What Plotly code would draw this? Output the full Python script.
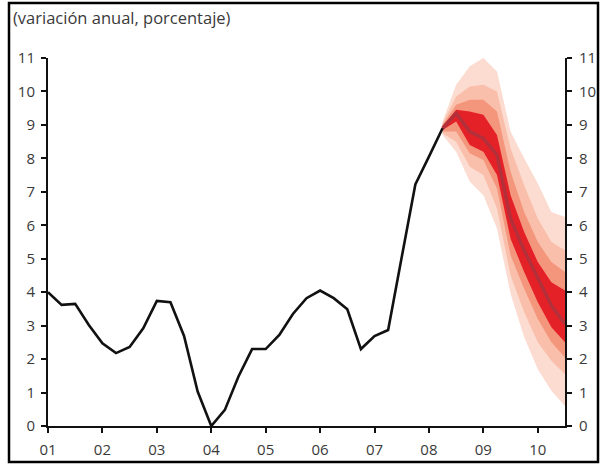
import plotly.graph_objects as go

# ---- data ----
hist_x = [2001.0, 2001.25, 2001.5, 2001.75, 2002.0, 2002.25, 2002.5, 2002.75,
          2003.0, 2003.25, 2003.5, 2003.75, 2004.0, 2004.25, 2004.5, 2004.75,
          2005.0, 2005.25, 2005.5, 2005.75, 2006.0, 2006.25, 2006.5, 2006.75,
          2007.0, 2007.25, 2007.5, 2007.75, 2008.0, 2008.25]
hist_y = [4.0, 3.62, 3.65, 3.02, 2.47, 2.18, 2.36, 2.92,
          3.74, 3.70, 2.69, 1.03, 0.0, 0.48, 1.48, 2.30,
          2.30, 2.72, 3.35, 3.82, 4.05, 3.82, 3.49, 2.30,
          2.69, 2.87, 5.05, 7.22, 8.05, 8.9]

fan_x = [2008.25, 2008.5, 2008.75, 2009.0, 2009.25, 2009.5, 2009.75, 2010.0, 2010.25, 2010.5]
center = [8.9, 9.35, 8.8, 8.6, 8.1, 6.2, 5.25, 4.4, 3.6, 3.05]
red_hi = [8.95, 9.45, 9.4, 9.3, 8.7, 6.9, 5.8, 4.9, 4.3, 4.05]
red_lo = [8.85, 9.1, 8.4, 8.2, 7.5, 5.6, 4.6, 3.7, 2.95, 2.5]
sal_hi = [9.0, 9.6, 9.75, 9.75, 9.4, 7.6, 6.4, 5.5, 4.9, 4.6]
sal_lo = [8.8, 8.8, 8.15, 7.95, 7.1, 5.1, 4.1, 3.2, 2.5, 2.05]
lig_hi = [9.05, 9.85, 10.15, 10.2, 10.0, 8.3, 7.2, 6.2, 5.5, 5.25]
lig_lo = [8.75, 8.5, 7.75, 7.5, 6.5, 4.5, 3.4, 2.5, 1.95, 1.55]
pal_hi = [9.1, 10.2, 10.75, 11.0, 10.6, 8.8, 8.0, 7.25, 6.4, 6.25]
pal_lo = [8.7, 8.2, 7.3, 6.9, 5.9, 3.95, 2.65, 1.7, 1.05, 0.6]

tick_vals = [2001, 2002, 2003, 2004, 2005, 2006, 2007, 2008, 2009, 2010]
tick_text = ["01", "02", "03", "04", "05", "06", "07", "08", "09", "10"]
y_ticks = list(range(0, 12))

title = "(variación anual, porcentaje)"

# ---- figure ----
W, H = 600, 464
ML, MR, MT, MB = 48, 35, 58, 38
PW, PH = W - ML - MR, H - MT - MB


def px(x):
    return (x - ML) / PW


def py(y):
    return (H - MB - y) / PH


fig = go.Figure()

bands = [
    (pal_hi, pal_lo, "#fcdcd1"),
    (lig_hi, lig_lo, "#f9bfaa"),
    (sal_hi, sal_lo, "#f4967c"),
    (red_hi, red_lo, "#e52128"),
]
for hi, lo, col in bands:
    fig.add_trace(go.Scatter(
        x=fan_x + fan_x[::-1], y=hi + lo[::-1], fill="toself",
        fillcolor=col, line=dict(width=0, color=col), mode="lines",
        hoverinfo="skip", showlegend=False))

fig.add_trace(go.Scatter(x=fan_x, y=center, mode="lines",
                         line=dict(color="#b3303a", width=3.5), showlegend=False))

fig.add_trace(go.Scatter(x=hist_x, y=hist_y, mode="lines",
                         line=dict(color="#111111", width=2.6), showlegend=False))

# dummy trace for right axis
fig.add_trace(go.Scatter(x=[2001], y=[0], yaxis="y2", mode="markers",
                         marker=dict(opacity=0), showlegend=False, hoverinfo="skip"))

tickfont = dict(family="Open Sans, sans-serif", size=15, color="#3a3a3a")
axis_common = dict(showgrid=False, zeroline=False, showline=True, linecolor="#111111",
                   linewidth=2, ticks="outside", ticklen=5, tickwidth=2,
                   tickcolor="#111111", tickfont=tickfont, automargin=False)

fig.update_layout(
    width=W, height=H, margin=dict(l=ML, r=MR, t=MT, b=MB, autoexpand=False),
    paper_bgcolor="white", plot_bgcolor="white",
    xaxis=dict(range=[2001, 2010.5], tickvals=tick_vals, ticktext=tick_text,
               ticklabelstandoff=4, **axis_common),
    yaxis=dict(range=[0, 11], tickvals=y_ticks, ticklabelstandoff=3, **axis_common),
    yaxis2=dict(range=[0, 11], tickvals=y_ticks, overlaying="y", side="right",
                ticklabelstandoff=4, **axis_common),
    annotations=[dict(text=title, xref="paper", yref="paper", x=px(11), y=py(18),
                      xanchor="left", yanchor="middle", showarrow=False,
                      font=dict(family="Open Sans, sans-serif", size=16.5, color="#3a3a3a"))],
    shapes=[dict(type="rect", xref="paper", yref="paper",
                 x0=px(9), x1=px(598), y0=py(462), y1=py(3),
                 line=dict(color="black", width=2.5), fillcolor="rgba(0,0,0,0)", layer="above")],
)

fig.write_html("out.html", config={"displayModeBar": False},
               post_script="document.body.style.margin='0';")
